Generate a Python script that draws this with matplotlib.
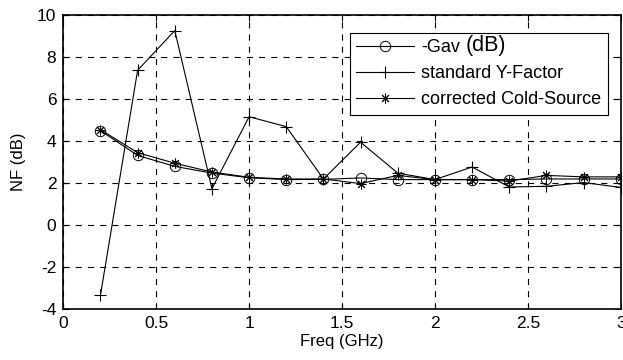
import matplotlib
matplotlib.use("Agg")
import matplotlib.pyplot as plt

freq = [0.2, 0.4, 0.6, 0.8, 1.0, 1.2, 1.4, 1.6, 1.8, 2.0, 2.2, 2.4, 2.6, 2.8, 3.0]
gav = [4.5, 3.32, 2.8, 2.48, 2.26, 2.17, 2.18, 2.25, 2.17, 2.17, 2.17, 2.17, 2.2, 2.2, 2.2]
y_factor = [-3.33, 7.37, 9.26, 1.74, 5.16, 4.69, 2.2, 3.95, 2.48, 2.17, 2.77, 1.82, 1.85, 2.03, 1.8]
cold_source = [4.55, 3.45, 2.95, 2.53, 2.28, 2.2, 2.2, 1.98, 2.37, 2.17, 2.17, 2.1, 2.37, 2.3, 2.3]

plt.rcParams["font.family"] = ["Liberation Sans", "DejaVu Sans"]
plt.rcParams["axes.unicode_minus"] = False

fig = plt.figure(figsize=(6.23, 3.6), dpi=100)
ax = fig.add_axes([0.1016, 0.1408, 0.8947, 0.8175])

asterisk = (8, 2, 0)  # matlab-like '*' marker
ax.plot(freq, gav, color="black", lw=0.8, marker="o", mfc="none", mec="black", ms=7.5, mew=0.7, label="-Gav")
ax.plot(freq, y_factor, color="black", lw=0.8, marker="+", ms=9, mew=0.8, label="standard Y-Factor")
ax.plot(freq, cold_source, color="black", lw=0.8, marker=asterisk, mec="black", ms=7, mew=0.7, label="corrected Cold-Source")

ax.set_xlim(0, 3)
ax.set_ylim(-4, 10)
ax.set_xticks([0, 0.5, 1, 1.5, 2, 2.5, 3])
ax.set_xticklabels(["0", "0.5", "1", "1.5", "2", "2.5", "3"])
ax.set_yticks([-4, -2, 0, 2, 4, 6, 8, 10])
ax.tick_params(direction="in", top=True, right=True, labelsize=12.5, length=4, width=0.8, pad=5)
ax.grid(True, color="black", linestyle=(0, (5.5, 5.5)), linewidth=0.8)
for sp in ax.spines.values():
    sp.set_linewidth(1.2)

ax.set_xlabel("Freq (GHz)", fontsize=12, labelpad=2)
ax.set_ylabel("NF (dB)", fontsize=12, labelpad=8)

leg = ax.legend(loc="upper right", bbox_to_anchor=(0.977, 0.939), fontsize=13,
                handlelength=3.2, fancybox=False, framealpha=1, edgecolor="black",
                borderaxespad=0, borderpad=0.35, labelspacing=0.5, handletextpad=0.4)
leg.get_frame().set_linewidth(0.8)

# the "(dB)" part of the first label is drawn larger in the reference
fig.canvas.draw()
bb = leg.get_texts()[0].get_window_extent()
fig.text(bb.x1 + 5, bb.y0, "(dB)", fontsize=15.5, transform=None, va="bottom", ha="left")

fig.savefig("out.png", dpi=100)
